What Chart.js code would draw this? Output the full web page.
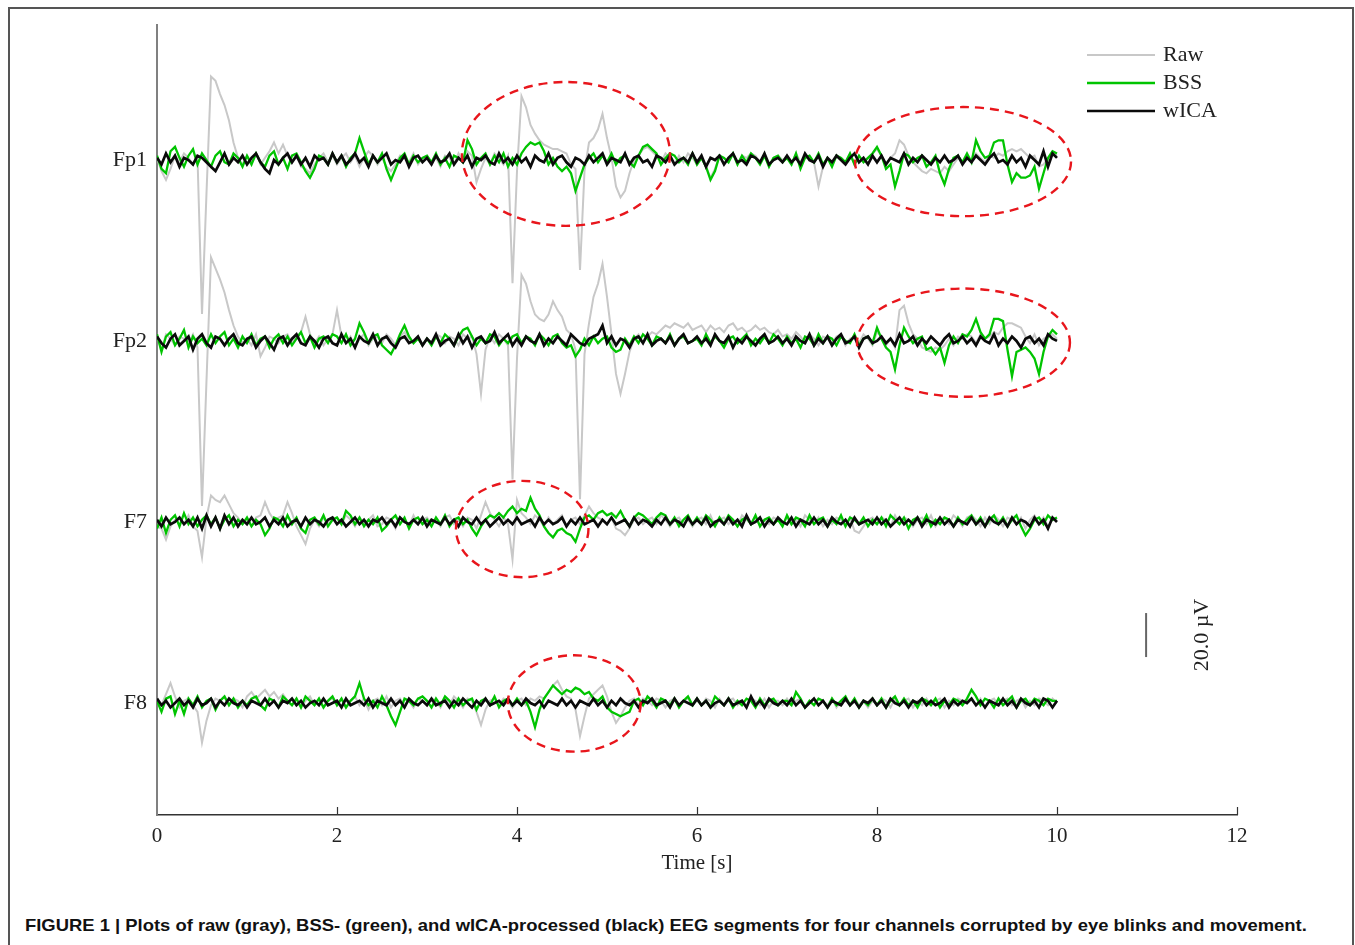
<!DOCTYPE html>
<html>
<head>
<meta charset="utf-8">
<script src="https://cdn.jsdelivr.net/npm/chart.js@4.4.0/dist/chart.umd.min.js"></script>
<style>
html, body { margin: 0; padding: 0; background: #fff; }
body { width: 1355px; height: 945px; position: relative; overflow: hidden; }
#frame { position: absolute; left: 8px; top: 7px; width: 1346px; height: 1000px; border: 2px solid #555; box-sizing: border-box; }
#plot { position: absolute; left: 0; top: 0; width: 1355px; height: 890px; }
#caption { position: absolute; left: 25px; top: 915px; font: bold 16.5px "Liberation Sans", Arial, sans-serif; line-height: 20px; white-space: nowrap; transform-origin: 0 0; color: #111; }
</style>
</head>
<body>
<div id="frame"></div>
<div id="plot"><canvas id="eeg"></canvas></div>
<div id="caption">FIGURE 1 | Plots of raw (gray), BSS- (green), and wICA-processed (black) EEG segments for four channels corrupted by eye blinks and movement.</div>
<script>
// sample clock: 0..10 s every 0.05 s
var time = [];
for (var i = 0; i <= 200; i++) time.push(+(i * 0.05).toFixed(2));

var channels = ['Fp1', 'Fp2', 'F7', 'F8'];
var seriesNames = ['Raw', 'BSS', 'wICA'];
var xTicks = [0, 2, 4, 6, 8, 10, 12];

// values in µV, one row per second
var rawFp1 = [
  1,-5,-9,-4,2,-1,3,1,-2,1, -70,-15,38,36,30,25,18,8,1,-2,
  2,-1,3,-2,1,4,8,3,7,2, -1,2,-3,-4,-6,-2,1,3,-1,2,
  -2,1,3,-1,2,-3,1,4,2,-2, 1,-3,-5,-2,2,1,-1,3,-2,1,
  2,-1,1,-3,2,1,-2,3,-1,4, 2,-10,-4,1,-2,3,1,-2,2,-56,
  -5,29,24,16,12,9,7,6,5,5, 4,3,-2,-4,-50,-5,8,10,14,21,
  10,1,-12,-17,-14,-6,0,2,5,6, 4,2,-1,3,1,-2,2,-1,3,1,
  -2,1,-3,-8,-4,2,1,-1,3,-2, 2,1,3,2,-1,2,-2,1,2,0,
  1,-2,3,-1,2,1,-1,-12,-3,1, -2,2,1,-1,3,-2,2,-1,1,3,
  5,2,-2,1,3,9,7,2,-1,-3, -5,-6,-4,-5,-6,-3,-5,-2,1,-1,
  2,-1,3,1,-1,2,1,3,2,4, 5,4,5,3,1,2,-3,-2,1,3,
  2
];
var bssFp1 = [
  2,-4,-6,4,6,1,-3,2,5,-2, 3,0,-3,2,4,-1,-2,3,1,-3,
  2,-2,3,-1,-3,2,4,-2,1,-4, 2,3,-1,-5,-8,-4,2,1,-2,3,
  -1,2,-3,1,3,10,4,-2,2,-1, 3,-4,-9,-4,1,3,-2,2,-1,1,
  2,-1,3,-2,1,-3,2,1,-1,9, 5,-2,1,3,-2,2,-1,3,-3,1,
  -2,3,6,8,7,8,4,-2,1,-3, -5,-3,-6,-14,-8,-2,1,3,-1,2,
  -1,3,-2,1,2,-1,-3,2,6,7, 5,3,-2,1,3,2,-1,1,-2,3,
  -2,1,-3,-9,-5,2,1,-1,3,-2, 2,-1,3,1,-2,2,-3,1,2,-1,
  1,-2,3,-4,1,2,-1,3,-2,1, -3,2,1,-1,3,-2,2,-1,1,3,
  6,2,-4,-2,-12,-5,3,2,-1,1, 2,-3,-1,2,-6,-11,-4,1,2,-1,
  3,-1,9,4,1,2,8,9,9,-2, -10,-6,-8,-8,-7,-3,-13,-6,1,4,
  3
];
var wicaFp1 = [
  1,-2,3,-1,2,-3,1,0,-2,2, 1,-1,-3,-5,-1,3,-2,1,-1,2,
  -2,1,3,-1,-4,-6,0,-2,1,3, -1,2,-2,1,-3,2,0,1,-2,3,
  -1,2,-2,0,3,-1,1,-3,2,-1, 1,3,-2,0,-1,2,-3,1,2,-1,
  1,-2,2,-1,0,3,-2,1,-1,2, -3,1,0,2,-1,-2,3,-1,1,-2,
  2,-1,1,-3,2,0,-1,3,-2,1, 2,-1,-3,1,0,-2,2,-1,1,3,
  -2,1,0,-1,3,-2,1,2,-1,0, -3,2,1,-1,2,-2,0,1,-1,3,
  -1,2,-3,1,0,2,-2,1,3,-1, 0,-2,2,1,-1,3,-2,0,1,-1,
  2,-1,1,-2,3,0,-1,2,-3,1, -1,2,0,-2,1,3,-1,1,-2,2,
  -1,2,-2,1,0,-1,3,-2,1,-1, 2,0,-2,1,-1,2,-1,0,2,-2,
  1,-1,2,0,-2,1,3,-1,0,-2, 2,-1,1,-3,2,0,-2,4,-3,3,
  1
];

var rawFp2 = [
  2,-4,3,1,-2,2,1,-1,3,-3, -75,-18,38,33,28,22,14,7,2,-1,
  1,-2,3,-7,-3,2,1,-1,2,3, -1,2,4,11,3,-1,2,-2,1,3,
  14,2,-1,2,-3,1,3,-2,1,2, -1,3,1,-2,2,4,1,-1,2,-2,
  1,-2,3,2,-1,2,1,-2,3,1, 2,-6,-24,-4,2,-1,3,1,-2,-63,
  -8,30,26,18,12,10,9,12,18,14, 11,5,3,-4,-72,-6,8,20,26,35,
  20,3,-15,-24,-15,-5,1,3,-1,2, 4,3,5,7,6,8,7,6,8,5,
  6,7,4,7,5,6,4,7,8,5, 6,4,5,7,5,6,4,3,5,2,
  3,1,4,2,-1,3,1,-2,2,1, -1,2,3,-2,1,2,-1,3,1,-2,
  4,2,-2,1,-3,14,16,8,3,1, -3,-4,-5,-3,-4,-2,1,-2,2,1,
  3,2,-1,3,1,2,4,3,6,8, 8,7,6,2,-1,3,-2,1,2,3,
  1
];
var bssFp2 = [
  3,-5,2,4,-2,1,5,-3,2,-1, 1,-2,3,-1,2,4,-2,1,-3,2,
  -1,3,-2,1,2,-3,1,3,-1,2, -2,1,4,-1,2,-3,1,2,-1,3,
  2,-1,3,-2,1,8,4,-1,2,3, -2,-4,-6,-2,3,7,2,-1,1,-2,
  1,-2,2,-1,3,1,-2,2,5,6, 2,-2,1,-1,3,2,-2,1,-1,2,
  3,-1,2,1,-2,3,1,-2,2,3, -1,-3,-2,-7,-4,1,-2,2,-1,1,
  2,-3,-5,-4,1,-2,2,-1,3,1, -2,2,1,-1,3,-2,1,2,-1,0,
  1,-2,3,-1,2,0,-3,1,2,-1, 1,3,-2,1,-1,2,-1,3,1,-2,
  2,-1,1,-3,2,1,-2,3,-1,2, 1,-2,2,0,-1,3,-2,1,2,-1,
  6,1,-3,-5,-13,-2,6,2,-1,1, 2,-4,-3,-6,-3,-10,-2,2,-1,3,
  2,5,10,4,1,3,10,10,9,-4, -16,-5,-4,-3,-5,-8,-15,-5,2,5,
  3
];
var wicaFp2 = [
  2,-1,-3,1,3,-2,0,2,-4,1, 3,-1,-3,2,1,-2,1,3,-1,-2,
  1,2,-3,0,2,-1,-4,1,2,-2, 1,3,-1,-2,2,0,-3,1,2,-1,
  -2,3,-1,1,-3,2,0,-1,3,-2, 1,2,-1,-3,1,2,-1,0,2,-2,
  1,-1,3,-2,0,1,-2,3,-1,2, -3,1,2,-1,0,4,-1,1,3,-2,
  1,-2,2,0,-1,3,-2,1,-1,2, 0,-2,3,1,-1,-2,1,2,3,7,
  -1,2,-2,1,0,-3,1,2,-1,3, -2,0,1,-1,2,-2,1,3,-1,0,
  2,-1,1,-2,3,0,-1,2,-3,1, -1,2,0,-2,1,3,-1,0,2,-1,
  1,-2,2,0,-1,3,-2,1,-1,2, -2,1,3,-1,0,2,-3,1,2,-1,
  0,2,-1,1,-2,3,-1,0,2,-2, 1,-1,2,0,-2,1,3,-1,0,2,
  -1,1,-2,2,0,-1,3,-2,1,-1, 2,0,-3,1,2,-1,1,-2,3,1,
  0
];

var rawF7 = [
  -2,-3,-8,-2,1,2,-1,3,-2,-4, -16,2,12,10,9,12,8,4,2,-1,
  1,-2,2,3,9,4,1,2,3,9, 4,-2,-6,-10,-3,1,-2,2,-1,1,
  2,-1,3,1,-2,2,-1,1,3,-2, -1,2,1,-3,2,1,-2,3,-1,1,
  2,-1,1,-2,2,3,-1,1,-2,2, 1,-3,3,9,4,1,-2,2,-1,-17,
  10,4,2,-1,3,1,-2,2,-1,1, 3,-2,1,2,-1,3,7,4,2,1,
  -1,2,-3,-4,-6,-3,1,2,-1,1, 2,-1,3,1,-2,1,2,-1,1,-2,
  1,2,-1,3,-2,1,2,-1,1,-2, 3,1,-1,2,-2,1,-1,2,1,-1,
  2,-1,1,-2,3,1,-1,2,-2,1, -1,2,1,-2,2,-4,-5,-2,1,2,
  -1,2,1,-2,3,-1,2,1,-2,1, 2,-1,3,-2,1,2,-1,3,1,-2,
  2,3,1,-2,2,-1,3,1,-2,2, 1,-1,2,-3,1,3,-1,2,-2,1,
  1
];
var bssF7 = [
  -3,2,-5,1,3,-2,4,-1,2,-2, 1,3,-1,2,-3,1,3,-2,1,-1,
  2,-2,1,-1,-6,-3,2,1,-2,3, -1,2,-3,-5,1,2,-1,3,-2,1,
  2,-1,5,3,-1,2,-2,1,-1,2, -4,-2,1,3,-1,2,-3,1,2,-1,
  1,-2,2,-1,3,-2,1,2,-1,1, -3,-6,-2,1,3,2,4,2,5,7,
  4,6,5,11,6,3,-2,-5,-7,-4, -3,-5,-6,-9,-3,2,3,1,4,5,
  3,4,2,5,1,-2,2,4,3,1, -1,2,4,3,-1,2,-2,1,3,-1,
  2,-1,3,1,-2,2,-1,3,1,-2, 1,2,-1,3,-2,1,2,-1,1,-2,
  3,-1,2,1,-2,3,-1,1,2,-2, 1,-1,3,-2,2,1,-1,2,-2,1,
  -1,2,-2,3,1,-1,2,-3,1,2, -1,3,-2,1,-1,2,1,-2,2,-1,
  1,3,-1,2,-2,1,3,-1,2,-2, 1,3,-2,-6,-3,1,2,-1,3,1,
  2
];
var wicaF7 = [
  1,-2,2,-1,0,2,-1,1,-2,2, -3,3,-2,2,-3,3,-1,2,-2,1,
  -1,2,-1,0,2,-2,1,-1,2,-2, 0,1,-2,2,-1,1,0,-2,1,2,
  -1,1,-2,0,2,-1,1,-2,1,0, 2,-1,1,-2,2,0,-1,1,-1,2,
  -2,1,0,-1,2,-1,1,-2,2,0, -1,2,-1,1,-2,0,2,-1,1,-1,
  2,-1,0,1,-2,2,-1,1,-1,0, 2,-2,1,-1,2,-1,0,1,-2,1,
  -1,2,-1,0,1,-2,2,-1,1,0, -2,1,-1,2,-1,1,0,-2,2,-1,
  1,-1,2,-2,0,1,-1,2,-1,1, -2,3,-1,0,2,-2,1,-1,2,0,
  -1,2,-2,1,0,-1,2,-1,1,-2, 2,0,-1,1,-2,2,-1,0,1,-1,
  2,-1,1,-2,0,2,-1,1,-1,2, -2,1,0,-1,2,-1,1,-2,1,0,
  -1,2,-1,1,-2,2,0,-1,1,-2, 2,-1,1,0,-2,2,-1,1,-3,2,
  0
];

var rawF8 = [
  2,-1,4,9,3,-2,1,2,-1,-4, -18,-8,-1,2,1,3,-1,2,1,-2,
  3,5,2,4,6,3,5,2,4,1, -1,2,-2,1,3,-1,2,-2,1,2,
  -1,2,-2,1,3,-1,2,-3,1,2, -1,3,-2,1,2,-1,1,-2,2,1,
  -1,2,1,-2,2,-1,3,1,-2,2, 1,-4,-10,-3,1,2,-1,2,1,-2,
  1,2,-1,2,1,3,2,5,8,10, 6,3,2,-3,-15,-6,2,4,6,8,
  3,-4,-9,-6,-2,1,2,-1,2,1, -1,2,1,-2,1,2,-1,1,2,-1,
  1,-1,2,1,-2,2,-1,1,2,-1, 1,-2,2,1,-1,2,-2,1,1,-1,
  2,-1,1,2,-2,1,-1,2,1,-1, 2,-2,1,1,-1,2,-1,1,-2,1,
  -1,2,1,-2,2,-1,1,2,-2,1, -1,2,-1,1,2,-2,1,-1,2,1,
  1,2,-1,2,-2,1,2,-1,1,2, -1,1,2,-2,1,-1,2,1,-1,2,
  0
];
var bssF8 = [
  1,-4,2,3,-5,1,-5,2,-1,3, -2,1,2,-3,1,3,-1,2,-2,1,
  -1,2,3,-1,-3,2,1,-2,3,1, -1,2,-2,3,1,-1,2,-2,1,3,
  -1,2,-2,1,3,9,2,-1,1,-2, 3,-1,-6,-10,-4,2,1,-1,2,3,
  1,-2,2,-1,3,1,-2,2,-1,1, 2,-3,1,2,-1,3,-2,1,2,-1,
  2,-1,1,-4,-11,-3,2,5,8,6, 4,6,5,7,6,4,5,2,1,3,
  -2,-4,-5,-6,-5,-4,1,2,-1,3, 1,-2,2,1,-1,2,-2,1,3,-1,
  2,-1,1,-2,3,1,-1,2,-2,1, -1,2,1,-2,2,-1,1,2,-1,1,
  1,-1,5,2,-2,1,-1,2,1,-2, 2,-1,1,3,-1,2,-2,1,-1,2,
  -1,2,-2,1,3,-1,2,-1,1,-2, 2,1,-1,2,-2,1,-1,2,1,-1,
  2,6,3,-1,2,1,-2,2,-1,1, 3,-2,1,2,-1,2,1,-1,2,1,
  1
];
var wicaF8 = [
  2,-1,1,-2,0,2,-1,1,-2,2, -1,0,2,-2,1,-1,2,0,-1,1,
  -2,1,0,-1,2,-1,1,-2,1,0, 2,-1,1,-2,0,1,-1,2,-1,0,
  1,-2,2,-1,0,1,-1,2,-2,1, 0,-1,2,-1,1,-2,2,0,-1,1,
  -1,2,-1,0,1,-2,1,-1,2,0, -2,1,-1,2,-1,0,1,-1,2,-1,
  1,-1,2,0,-1,1,-2,1,0,-1, 2,-1,1,-2,1,0,-1,2,-1,1,
  -2,1,-1,2,0,-1,1,-2,1,0, 2,-1,0,1,-2,2,-1,1,0,-1,
  2,-1,1,-2,0,1,-1,2,-1,0, 1,-2,3,-1,1,-2,2,0,-1,1,
  -1,2,-1,1,-2,0,2,-1,1,-2, 1,0,-1,2,-1,1,-2,1,0,2,
  -1,1,-2,2,0,-1,1,-2,1,0, 2,-1,1,-1,0,2,-2,1,-1,1,
  0,2,-1,1,-2,1,0,-1,2,-1, 1,-2,2,0,-1,1,-2,2,1,-2,
  1
];

var traces = {
  Fp1: [rawFp1, bssFp1, wicaFp1],
  Fp2: [rawFp2, bssFp2, wicaFp2],
  F7: [rawF7, bssF7, wicaF7],
  F8: [rawF8, bssF8, wicaF8]
};

// montage: baseline of each channel on the stacked µV axis
var channelBase = { Fp1: 297.7, Fp2: 215.5, F7: 133.2, F8: 50.9 };

// red dashed rings (centre time/µV and half-widths)
var rings = [
  { t: 4.544, v: 300.5, dt: 1.156, dv: 32.7 },
  { t: 8.956, v: 297.0, dt: 1.200, dv: 24.8 },
  { t: 8.961, v: 214.7, dt: 1.183, dv: 24.6 },
  { t: 4.058, v: 130.0, dt: 0.736, dv: 21.9 },
  { t: 4.636, v: 50.7, dt: 0.738, dv: 21.9 }
];
var scaleBar = { t: 10.99, from: 71.8, size: 20 };

var colors = ['#c8c8c8', '#00c400', '#0a0a0a'];
var widths = [2, 2.3, 2.7];
var serif = '"Liberation Serif", "Times New Roman", serif';

var datasets = [];
channels.forEach(function (ch) {
  traces[ch].forEach(function (vals, s) {
    datasets.push({
      label: ch + ' ' + seriesNames[s],
      data: vals.map(function (v, i) { return { x: time[i], y: v + channelBase[ch] }; }),
      borderColor: colors[s],
      borderWidth: widths[s],
      pointRadius: 0,
      tension: 0,
      order: 3 - s
    });
  });
});

var overlay = {
  id: 'overlay',
  afterDatasetsDraw: function (chart) {
    var ctx = chart.ctx, area = chart.chartArea;
    var x = chart.scales.x, y = chart.scales.y;
    ctx.save();

    ctx.strokeStyle = '#e8161c';
    ctx.lineWidth = 2.4;
    ctx.setLineDash([9, 6]);
    rings.forEach(function (r) {
      var cx = x.getPixelForValue(r.t), cy = y.getPixelForValue(r.v);
      var rx = x.getPixelForValue(r.t + r.dt) - cx;
      var ry = cy - y.getPixelForValue(r.v + r.dv);
      ctx.beginPath();
      ctx.ellipse(cx, cy, rx, ry, 0, 0, Math.PI * 2);
      ctx.stroke();
    });
    ctx.setLineDash([]);

    // ticks pointing into the plot
    ctx.strokeStyle = '#333';
    ctx.lineWidth = 1.2;
    x.ticks.forEach(function (tk) {
      if (tk.value === 0) return;
      var px = Math.round(x.getPixelForValue(tk.value)) + 0.5;
      ctx.beginPath();
      ctx.moveTo(px, area.bottom);
      ctx.lineTo(px, area.bottom - 8);
      ctx.stroke();
    });

    // 20 µV scale bar
    var bx = x.getPixelForValue(scaleBar.t);
    var b0 = y.getPixelForValue(scaleBar.from), b1 = y.getPixelForValue(scaleBar.from + scaleBar.size);
    ctx.strokeStyle = '#666';
    ctx.lineWidth = 2;
    ctx.beginPath();
    ctx.moveTo(bx, b0);
    ctx.lineTo(bx, b1);
    ctx.stroke();
    ctx.fillStyle = '#222';
    ctx.font = '22px ' + serif;
    ctx.textAlign = 'center';
    ctx.textBaseline = 'middle';
    ctx.translate(bx + 56, (b0 + b1) / 2);
    ctx.rotate(-Math.PI / 2);
    ctx.fillText(scaleBar.size.toFixed(1) + ' µV', 0, 0);
    ctx.setTransform(1, 0, 0, 1, 0, 0);

    // legend
    var lx = area.right - 150, ly = area.top + 30;
    ctx.textAlign = 'left';
    seriesNames.forEach(function (name, s) {
      var yy = ly + s * 28;
      ctx.strokeStyle = colors[s];
      ctx.lineWidth = widths[s];
      ctx.beginPath();
      ctx.moveTo(lx, yy);
      ctx.lineTo(lx + 68, yy);
      ctx.stroke();
      ctx.fillStyle = '#222';
      ctx.fillText(name, lx + 76, yy);
    });
    ctx.restore();
  }
};

new Chart(document.getElementById('eeg'), {
  type: 'line',
  data: { datasets: datasets },
  options: {
    responsive: true,
    maintainAspectRatio: false,
    animation: false,
    events: [],
    layout: { padding: { top: 25, right: 118, left: 0, bottom: 0 } },
    plugins: { legend: { display: false }, tooltip: { enabled: false } },
    scales: {
      x: {
        type: 'linear',
        min: 0,
        max: 12,
        afterBuildTicks: function (scale) { scale.ticks = xTicks.map(function (v) { return { value: v }; }); },
        afterFit: function (scale) { scale.height = 75; },
        grid: { display: false, drawTicks: false },
        border: { display: true, color: '#333', width: 1.5 },
        ticks: { padding: 9, color: '#222', font: { family: serif, size: 21 } },
        title: { display: true, text: 'Time [s]', color: '#222', font: { family: serif, size: 21 }, padding: { top: 0, bottom: 14 } }
      },
      y: {
        min: 0,
        max: 359.1,
        afterBuildTicks: function (scale) {
          scale.ticks = channels.slice().reverse().map(function (ch) { return { value: channelBase[ch] }; });
        },
        afterFit: function (scale) { scale.width = 157; },
        grid: { display: false, drawTicks: false },
        border: { display: true, color: '#808080', width: 2 },
        ticks: {
          autoSkip: false,
          padding: 10,
          color: '#222',
          font: { family: serif, size: 22 },
          callback: function (value) {
            for (var k = 0; k < channels.length; k++) {
              if (Math.abs(channelBase[channels[k]] - value) < 0.01) return channels[k];
            }
            return '';
          }
        }
      }
    }
  },
  plugins: [overlay]
});

var cap = document.getElementById('caption');
cap.style.transform = 'scaleX(' + (1282 / cap.offsetWidth) + ')';
</script>
</body>
</html>
